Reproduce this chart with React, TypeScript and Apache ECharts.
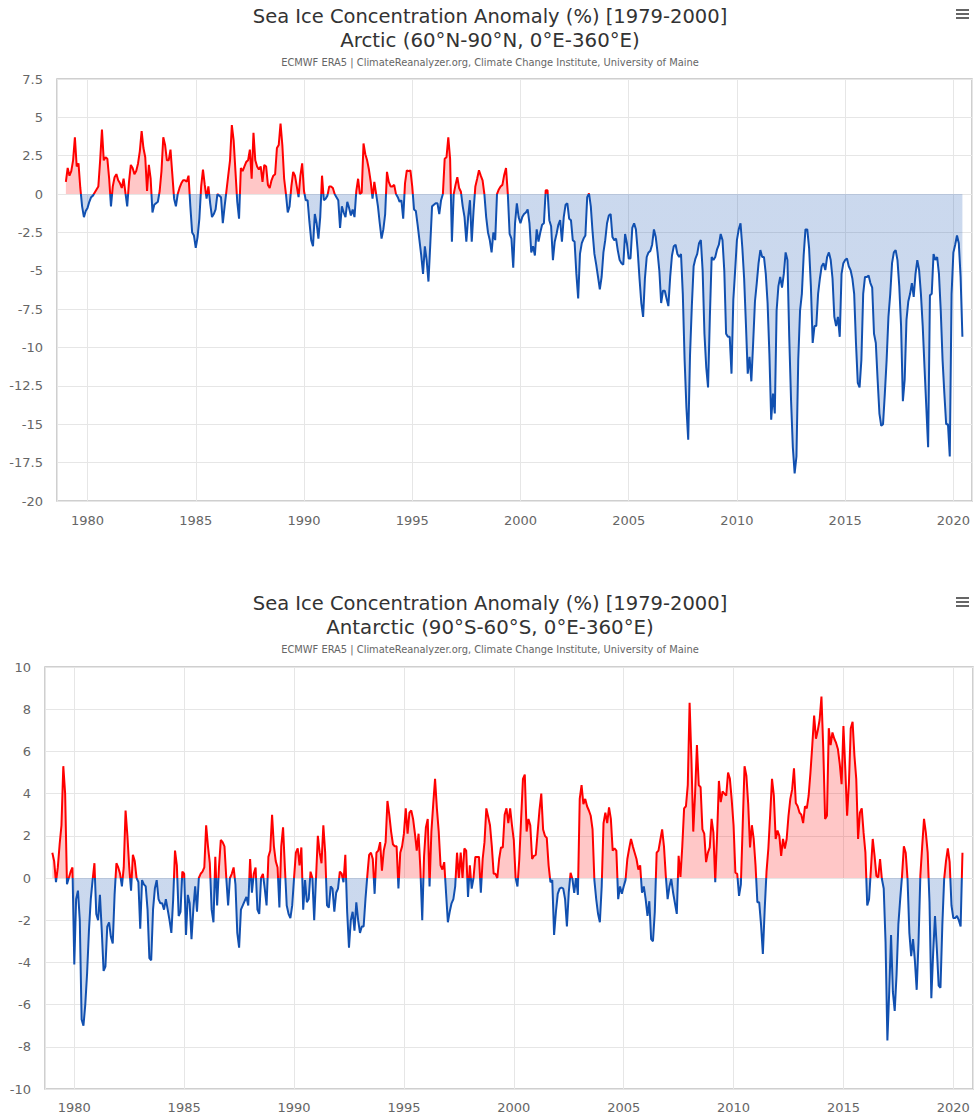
import React, { useEffect, useRef } from "react";
import * as echarts from "echarts";

// Monthly anomalies (%), January 1979 .. June 2020
const START_YEAR = 1979;

const arcticValues: number[] = [
  0.8, 1.7, 1.2, 1.5, 2.2, 3.7, 1.8, 2.0, 0.4, -0.8, -1.5, -1.1,
  -0.9, -0.5, -0.2, -0.1, 0.1, 0.3, 0.5, 2.2, 4.2, 2.2, 2.4, 2.3,
  1.0, -0.8, 0.5, 1.1, 1.3, 0.9, 0.7, 0.4, 1.0, 0.1, -0.8, 0.8,
  1.9, 1.7, 1.3, 1.5, 2.0, 2.8, 4.1, 3.0, 2.4, 0.2, 1.9, 1.0,
  -1.2, -0.7, -0.6, -0.5, 0.2, 1.5, 3.7, 3.2, 2.2, 2.2, 2.9, 1.3,
  -0.3, -0.8, 0.0, 0.4, 0.7, 0.9, 0.9, 0.8, 1.2, -0.8, -2.5, -2.7,
  -3.5, -2.8, -1.6, 0.5, 1.6, 0.6, -0.3, 0.5, -0.6, -1.5, -1.3, -1.0,
  0.0, -0.1, -0.2, -1.9, -0.8, 0.2, 1.2, 2.2, 4.5, 3.5, 1.5, -0.5,
  -1.6, 1.7, 1.5, 1.8, 2.1, 2.2, 2.9, 1.0, 4.0, 2.2, 1.8, 1.6,
  1.8, 0.8, 1.9, 1.8, 0.6, 0.4, 0.9, 1.2, 1.3, 3.0, 3.2, 4.6,
  3.2, 1.0, 0.0, -1.2, -0.8, 0.5, 1.45, 1.2, 0.5, -0.2, 1.2, 2.0,
  0.2, -0.4, -0.4, -1.8, -3.0, -3.4, -1.3, -1.9, -2.9, -1.5, 1.2, -0.4,
  -0.3, -0.1, 0.5, 0.5, 0.4, 0.0, -0.2, -0.4, -2.2, -0.8, -1.2, -1.5,
  -0.5, -0.9, -1.4, -1.0, -1.5, 0.2, 1.0, 0.0, 0.1, 3.3, 2.6, 2.2,
  1.6, 0.8, -0.3, 0.8, 0.0, -0.8, -1.9, -2.9, -2.3, -1.3, 1.45, 0.8,
  0.5, 0.5, 0.6, 0.0, -0.2, -0.5, -0.4, -1.6, 0.7, 1.55, 1.5, 1.55,
  0.5, -1.0, -1.1, -2.0, -3.0, -4.0, -5.2, -3.4, -4.3, -5.7, -3.3, -0.8,
  -0.7, -0.6, -0.6, -1.3, -0.4, 0.0, 2.3, 2.4, 3.7, 2.3, -3.1, 0.0,
  0.6, 1.1, 0.4, 0.15, -0.8, -1.5, -3.1, -1.5, -0.4, -3.1, -1.1, 0.5,
  1.0, 1.55, 1.2, 0.9, 0.0, -1.5, -2.5, -3.0, -3.8, -2.5, -3.0, 0.0,
  0.3, 0.5, 0.6, 1.25, 1.7, 0.0, -2.6, -2.9, -4.8, -1.9, -0.6, -1.5,
  -1.9, -1.5, -1.3, -1.2, -1.0, -1.9, -3.8, -3.4, -4.0, -2.3, -3.1, -2.5,
  -2.0, -1.9, 0.25, 0.25, -1.7, -2.1, -4.3, -3.1, -2.6, -2.0, -1.7, -3.1,
  -1.5, -0.7, -0.6, -1.6, -1.7, -3.0, -3.1, -5.2, -6.8, -3.9, -3.2, -2.9,
  -2.7, -0.2, 0.05, -0.8, -2.5, -3.9, -4.6, -5.4, -6.2, -5.4, -3.8, -3.0,
  -1.9, -1.4, -1.3, -2.8, -3.0, -2.9, -3.7, -4.3, -4.5, -4.6, -2.6, -3.2,
  -4.2, -4.2, -2.2, -1.9, -2.3, -3.7, -5.5, -7.1, -8.0, -5.5, -4.1, -3.8,
  -3.7, -3.3, -2.3, -2.8, -3.8, -5.0, -7.1, -6.3, -6.3, -6.8, -7.3, -5.4,
  -4.0, -3.4, -3.3, -3.9, -4.1, -3.9, -6.5, -10.8, -13.9, -16.0, -10.5, -7.3,
  -4.7, -4.2, -3.9, -3.2, -3.0, -5.0, -9.1, -11.3, -12.6, -8.0, -4.1, -4.3,
  -4.1, -3.6, -3.3, -2.6, -3.0, -5.0, -9.1, -9.3, -9.3, -11.7, -6.9, -5.0,
  -3.0, -2.3, -1.9, -3.5, -5.5, -8.5, -11.7, -10.6, -12.2, -9.7, -7.0, -5.8,
  -4.5, -3.65, -4.1, -4.1, -5.2, -7.1, -10.4, -14.7, -13.0, -14.3, -7.6, -6.0,
  -5.4, -6.1, -5.2, -3.8, -4.3, -9.3, -13.4, -16.5, -18.2, -17.1, -10.8, -7.6,
  -6.5, -4.0, -2.3, -2.3, -3.5, -6.0, -9.7, -8.6, -8.6, -6.5, -5.5, -4.7,
  -4.5, -4.95, -4.1, -3.8, -4.3, -5.5, -8.0, -8.6, -8.0, -9.3, -5.2, -4.5,
  -4.3, -4.2, -4.7, -4.95, -5.5, -6.5, -9.7, -12.3, -12.6, -10.8, -6.5, -5.4,
  -5.4, -5.3, -5.8, -6.1, -9.1, -9.7, -12.1, -14.3, -15.1, -15.0, -13.0, -10.8,
  -8.0, -6.5, -4.5, -3.8, -3.65, -4.3, -6.0, -8.6, -13.5, -12.1, -8.2, -7.0,
  -6.5, -5.8, -6.7, -5.2, -4.3, -4.95, -6.5, -8.6, -11.3, -13.9, -16.5, -6.6,
  -6.5, -3.9, -4.3, -4.1, -5.2, -7.6, -10.8, -13.0, -15.0, -15.0, -17.1, -6.5,
  -3.8, -3.3, -2.7, -3.2, -5.4, -9.3,
];

const antarcticValues: number[] = [
  1.2, 0.8, -0.2, 0.5, 1.6, 2.5, 5.3, 4.0, -0.3, 0.0, 0.3, 0.5,
  -4.1, -1.0, -0.6, -2.0, -6.7, -7.0, -6.0, -4.5, -2.5, -1.0, -0.1, 0.7,
  -1.7, -2.0, -0.8, -2.5, -4.4, -4.2, -2.3, -2.1, -2.8, -3.1, -0.8, 0.7,
  0.5, 0.2, -0.4, 0.5, 3.2, 2.0, 0.5, -0.6, 1.1, 0.8, 0.0, -0.2,
  -2.4, -0.1, -0.3, -0.4, -1.5, -3.8, -3.9, -1.5, -0.5, -0.1, -1.0, -1.2,
  -1.2, -1.5, -1.0, -1.5, -2.0, -2.6, -1.0, 1.3, 0.6, -1.8, -1.6, 0.3,
  0.2, -2.7, -0.8, -1.2, -2.9, -1.5, -0.4, -1.6, 0.0, 0.2, 0.3, 0.5,
  2.5, 1.5, 0.7, -1.5, -2.1, 1.0, -1.3, 0.5, 1.8, 1.7, 1.5, 0.0,
  -1.3, 0.0, 0.2, 0.5, -0.3, -2.6, -3.3, -1.5, -1.3, -1.1, -0.9, -1.3,
  0.9, -0.7, 0.2, 0.5, -1.5, -1.7, 0.0, 0.2, -0.5, -1.3, 1.0, 1.3,
  3.0, 1.5, 0.8, 0.5, -1.4, 1.5, 2.4, 0.5, -1.3, -1.7, -1.9, -1.3,
  0.0, 1.2, 1.4, 0.6, 1.45, -1.5, -0.1, -1.15, -1.0, 0.3, 0.0, -2.0,
  0.0, 2.0, 1.2, 0.7, 2.5, 1.2, -1.3, -1.4, -0.4, -0.5, -1.6, -0.7,
  -0.5, 0.3, 0.2, -0.2, 1.1, -1.6, -3.3, -2.0, -1.6, -2.5, -1.15, -2.0,
  -2.6, -2.3, -2.3, -1.0, 0.1, 1.1, 1.2, 0.9, -0.75, 1.2, 1.3, 1.7,
  0.35, 1.3, 1.7, 3.65, 3.0, 2.2, 1.6, 1.5, 1.5, -0.5, 1.2, 1.5,
  2.1, 3.3, 2.1, 3.1, 3.2, 2.8, 2.1, 1.3, 2.1, 0.4, -2.0, 1.05,
  2.4, 2.8, -0.4, 2.2, 3.5, 4.7, 3.3, 2.2, 0.6, 0.4, 0.75, -0.7,
  -2.1, -1.6, -1.2, -1.0, -0.4, 1.2, 0.0, 1.2, 0.0, 1.4, 1.3, -0.9,
  0.6, -0.5, 0.0, 1.0, 1.0, 1.0, -0.7, 0.9, 1.7, 3.3, 2.9, 2.5,
  1.5, 0.2, 0.2, 0.0, 0.9, 1.45, 1.45, 3.0, 3.3, 2.6, 3.3, 2.5,
  1.8, 0.0, -0.4, 0.9, 2.8, 4.7, 4.9, 2.2, 2.8, 2.5, 0.9, 1.05,
  1.1, 2.15, 3.2, 4.0, 2.3, 2.0, 1.9, 0.6, -0.2, -0.1, -2.7, -1.6,
  -0.75, -0.5, -0.45, -0.5, -1.0, -2.3, -0.7, 0.25, -0.05, -0.7, 0.0, -0.8,
  3.75, 4.4, 3.5, 3.75, 3.4, 3.2, 2.95, 2.3, -0.1, -1.0, -1.7, -2.1,
  -0.4, 2.6, 3.1, 2.6, 3.35, 2.8, 1.3, 1.4, 1.3, -1.0, -0.4, -0.75,
  -0.4, -0.1, 0.9, 1.4, 1.85, 1.5, 1.2, 0.9, 0.4, 0.6, -0.7, -0.4,
  -1.0, -1.8, -1.1, -2.9, -3.0, -1.6, 1.2, 1.3, 1.8, 2.3, 1.5, 0.1,
  -1.0, -0.4, -0.05, -0.7, -1.2, -1.7, 1.05, 0.05, 1.5, 3.3, 3.4, 4.4,
  8.3, 5.6, 2.2, 4.0, 6.3, 4.4, 4.3, 2.3, 2.1, 0.75, 1.2, 1.45,
  2.8, 2.15, -0.2, 2.0, 4.6, 3.6, 4.1, 4.0, 3.9, 5.0, 4.7, 3.7,
  2.5, 0.25, 0.2, -0.85, -0.3, 2.5, 5.3, 4.85, 3.5, 1.45, 2.5, 1.85,
  0.6, -1.15, -1.15, -2.2, -3.6, -1.5, 0.3, 1.4, 3.0, 4.7, 3.9, 1.85,
  2.25, 2.0, 1.05, 1.85, 1.4, 1.85, 2.95, 3.75, 4.2, 5.2, 3.55, 3.4,
  3.1, 3.0, 2.6, 3.4, 3.3, 3.9, 5.0, 6.3, 7.7, 6.6, 7.0, 7.5,
  8.6, 6.1, 2.8, 2.95, 7.1, 6.3, 6.9, 6.6, 6.4, 6.1, 5.4, 4.45,
  7.2, 5.2, 2.95, 4.5, 7.1, 7.4, 5.8, 4.7, 1.85, 3.1, 3.3, 2.15,
  1.2, -1.3, -1.0, 0.4, 1.85, 1.05, 0.1, 0.03, 0.9, -0.05, -0.5, -3.05,
  -7.7, -5.4, -2.7, -5.4, -6.3, -4.6, -2.2, -1.0, 0.1, 1.5, 1.2, -0.05,
  -2.6, -3.7, -2.9, -3.9, -5.3, -3.05, 0.1, 1.5, 2.8, 2.15, 1.2, -1.15,
  -5.7, -3.55, -1.8, -3.35, -5.1, -5.2, -2.25, -0.05, 0.8, 1.4, 0.75, -1.3,
  -1.9, -1.9, -1.8, -2.0, -2.3, 1.2,
];

const MAIN_TITLE = "Sea Ice Concentration Anomaly (%) [1979-2000]";
const ARCTIC_TITLE = "Arctic (60°N-90°N, 0°E-360°E)";
const ANTARCTIC_TITLE = "Antarctic (90°S-60°S, 0°E-360°E)";
const SOURCE_TEXT =
  "ECMWF ERA5 | ClimateReanalyzer.org, Climate Change Institute, University of Maine";

const arcticYAxis = { min: -20, max: 7.5, step: 2.5 };
const antarcticYAxis = { min: -10, max: 10, step: 2 };
const yearTickStep = 5;

const FONT = "'DejaVu Sans', 'Lucida Grande', sans-serif";
const RED = "#ff0000";
const BLUE = "#1150b0";

function toPairs(values: number[]) {
  return values.map((v, i) => [START_YEAR + i / 12, v]);
}

function xAxisFor(gridIndex: number, min: number, max: number, margin: number) {
  return {
    type: "value",
    gridIndex,
    min,
    max,
    minInterval: yearTickStep,
    maxInterval: yearTickStep,
    axisLine: { show: false },
    axisTick: { show: false },
    splitLine: { show: true, lineStyle: { color: "#e6e6e6", width: 1 } },
    axisLabel: {
      show: true,
      showMinLabel: false,
      showMaxLabel: false,
      margin,
      color: "#666",
      fontSize: 13,
      fontFamily: FONT,
      formatter: (v: number) => String(Math.round(v)),
    },
  };
}

function yAxisFor(gridIndex: number, cfg: { min: number; max: number; step: number }) {
  return {
    type: "value",
    gridIndex,
    min: cfg.min,
    max: cfg.max,
    interval: cfg.step,
    axisLine: { show: false },
    axisTick: { show: false },
    splitLine: { show: true, lineStyle: { color: "#e6e6e6", width: 1 } },
    axisLabel: {
      margin: 14,
      color: "#666",
      fontSize: 13,
      fontFamily: FONT,
    },
  };
}

function titlesAt(offset: number, region: string) {
  return [
    {
      text: MAIN_TITLE,
      left: "center",
      top: 6 + offset,
      padding: 0,
      textStyle: { fontSize: 19.5, fontWeight: "normal", color: "#333", fontFamily: FONT },
    },
    {
      text: region,
      left: "center",
      top: 30 + offset,
      padding: 0,
      textStyle: { fontSize: 19.8, fontWeight: "normal", color: "#333", fontFamily: FONT },
    },
    {
      text: SOURCE_TEXT,
      left: "center",
      top: 57 + offset,
      padding: 0,
      textStyle: { fontSize: 9.9, fontWeight: "normal", color: "#666", fontFamily: FONT },
    },
  ];
}

function menuIcon(offset: number) {
  return [0, 4, 8].map((dy) => ({
    type: "rect",
    shape: { x: 956, y: 9 + dy + offset, width: 13, height: 2 },
    style: { fill: "#666" },
  }));
}

function seriesFor(name: string, idx: number, values: number[]) {
  return {
    name,
    type: "line",
    xAxisIndex: idx,
    yAxisIndex: idx,
    data: toPairs(values),
    showSymbol: false,
    symbol: "none",
    lineStyle: { width: 2 },
    areaStyle: { opacity: 0.22 },
    z: 3,
  };
}

export default function App() {
  const ref = useRef<HTMLDivElement>(null);

  useEffect(() => {
    if (!ref.current) return;
    const chart = echarts.init(ref.current, undefined, { renderer: "svg" });
    const option: any = {
      animation: false,
      backgroundColor: "#ffffff",
      textStyle: { fontFamily: FONT },
      title: [...titlesAt(0, ARCTIC_TITLE), ...titlesAt(587, ANTARCTIC_TITLE)],
      grid: [
        {
          left: 57, top: 79, width: 915, height: 422,
          show: true, borderColor: "#c0c0c0", borderWidth: 1.5, backgroundColor: "transparent",
        },
        {
          left: 45, top: 667, width: 928, height: 422,
          show: true, borderColor: "#c0c0c0", borderWidth: 1.5, backgroundColor: "transparent",
        },
      ],
      xAxis: [xAxisFor(0, 1978.59, 2020.86, 13), xAxisFor(1, 1978.667, 2020.896, 12)],
      yAxis: [yAxisFor(0, arcticYAxis), yAxisFor(1, antarcticYAxis)],
      visualMap: {
        show: false,
        type: "piecewise",
        dimension: 1,
        seriesIndex: [0, 1],
        pieces: [
          { gte: -100, lt: 0, color: BLUE },
          { gte: 0, lte: 100, color: RED },
        ],
        outOfRange: { color: BLUE },
      },
      series: [
        seriesFor("Arctic", 0, arcticValues),
        seriesFor("Antarctic", 1, antarcticValues),
      ],
      graphic: [...menuIcon(0), ...menuIcon(588)],
    };
    chart.setOption(option);
    return () => chart.dispose();
  }, []);

  return (
    <div
      ref={ref}
      style={{ position: "absolute", left: 0, top: 0, width: 980, height: 1119, background: "#fff" }}
    />
  );
}
